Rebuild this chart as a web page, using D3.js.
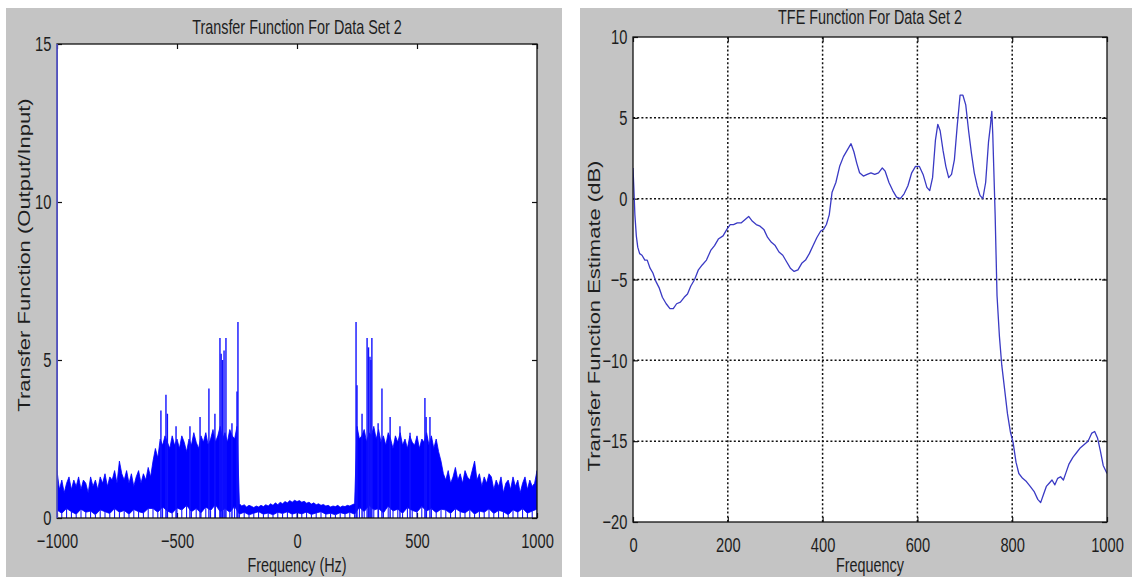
<!DOCTYPE html>
<html>
<head>
<meta charset="utf-8">
<script src="https://cdn.jsdelivr.net/npm/d3@7"></script>
<style>
  body { margin: 0; background: #ffffff; }
  svg text { font-family: "Liberation Sans", Arial, Helvetica, sans-serif; fill: #1e1e1e; }
</style>
</head>
<body>
<svg id="chart" width="1132" height="577"></svg>
<script>
// ---------------- Left panel: transfer function magnitude ----------------
const specTitle = "Transfer Function For Data Set 2";
const specXLabel = "Frequency (Hz)";
const specYLabel = "Transfer Function (Output/Input)";
const specXTicks = [-1000, -500, 0, 500, 1000];
const specYTicks = [0, 5, 10, 15];

// upper edge of the dense spectrum, sampled every 10 Hz from -1000 to 1000
const specUpperStep = 10;
const specUpper = [
  // -1000 .. -610
  1.5,0.9,1.2,0.8,1.1,1.3,0.9,1.2,1.0,1.3,
  0.9,1.2,1.1,0.8,1.3,1.0,1.2,0.9,1.3,1.1,
  1.4,1.0,1.3,1.2,1.5,1.1,1.8,1.4,1.2,1.5,
  1.1,1.4,1.0,1.3,1.5,1.1,1.4,1.2,1.6,1.3,
  // -600 .. -250
  1.8,2.2,1.9,2.5,2.3,2.6,2.4,2.2,2.6,2.3,
  2.5,2.2,2.6,2.4,2.1,2.5,2.3,2.7,2.4,2.2,
  2.6,2.4,2.7,2.3,2.5,2.8,2.4,2.6,2.9,2.5,
  2.7,2.4,2.8,2.6,2.5,2.9,
  // -240 .. 240
  0.45,0.38,0.42,0.35,0.40,0.37,0.33,0.38,0.35,0.40,
  0.36,0.42,0.38,0.45,0.40,0.48,0.42,0.50,0.45,0.52,
  0.48,0.55,0.50,0.56,0.52,
  0.55,0.50,0.53,0.47,0.50,0.44,0.48,0.42,0.45,0.40,
  0.43,0.38,0.40,0.35,0.38,0.36,0.40,0.34,0.38,0.36,0.40,0.38,0.42,0.45,
  // 250 .. 600
  2.9,2.5,2.6,2.8,2.4,2.7,2.6,2.9,2.5,2.8,
  2.4,2.6,2.3,2.7,2.5,2.2,2.6,2.4,2.7,2.3,
  2.5,2.2,2.6,2.4,2.3,2.6,2.2,2.5,2.4,2.7,
  2.3,2.6,2.2,2.5,2.1,1.8,
  // 610 .. 1000
  1.4,1.2,1.5,1.1,1.3,1.6,1.2,1.4,1.1,1.5,
  1.3,1.2,1.5,1.8,1.2,1.4,1.0,1.3,1.1,1.4,
  1.3,0.9,1.2,1.0,1.3,0.8,1.1,1.2,0.9,1.3,
  1.0,1.2,0.8,1.1,1.3,0.9,1.2,1.0,1.1,1.5
];

// lower edge of the dense spectrum, sampled every 20 Hz from -1000 to 1000
const specLowerStep = 20;
const specLower = [
  // -1000 .. -620
  0.25,0.15,0.30,0.20,0.12,0.28,0.18,0.22,0.10,0.26,0.20,0.14,0.30,0.18,0.24,0.12,0.27,0.20,0.16,0.30,
  // -600 .. -260
  0.30,0.18,0.35,0.22,0.15,0.32,0.25,0.40,0.20,0.30,0.16,0.35,0.24,0.42,0.20,0.30,0.18,0.36,
  // -240 .. 240
  0.12,0.18,0.10,0.15,0.20,0.12,0.16,0.10,0.18,0.14,0.20,0.12,0.17,0.13,0.19,0.11,0.16,0.20,0.12,0.15,0.10,0.17,0.13,0.18,0.12,
  // 260 .. 600
  0.34,0.20,0.40,0.25,0.30,0.16,0.38,0.22,0.28,0.15,0.33,0.24,0.19,0.36,0.22,0.30,0.17,0.28,
  // 620 .. 1000
  0.25,0.14,0.30,0.20,0.16,0.27,0.12,0.22,0.18,0.29,0.14,0.24,0.20,0.10,0.26,0.18,0.30,0.15,0.22,0.28
];

// isolated narrow peaks
const spikeFreq = [-1000,
  -567,-546,-540,-504,-446,-404,-367,-342,-321,-316,-310,-304,-296,-271,-250,-246,
   246, 250, 271, 292, 298, 304, 308, 312, 338, 354, 388, 429, 471, 533, 538, 554];
const spikeMag = [15,
  3.4,3.9,3.3,2.9,2.9,3.2,4.1,3.3,5.7,5.2,5.0,5.3,5.7,3.0,4.0,6.2,
  6.2,4.2,3.3,5.7,5.4,5.1,5.0,5.7,3.0,4.1,3.2,2.9,2.7,3.8,3.2,3.2];

// ---------------- Right panel: TFE estimate ----------------
const tfeTitle = "TFE Function For Data Set 2";
const tfeXLabel = "Frequency";
const tfeYLabel = "Transfer Function Estimate (dB)";
const tfeXTicks = [0, 200, 400, 600, 800, 1000];
const tfeYTicks = [-20, -15, -10, -5, 0, 5, 10];

const tfeFreq = [
  0,2,4,7,10,14,19,25,30,36,42,48,55,62,70,78,85,92,100,108,
  115,122,130,138,146,155,164,172,180,190,198,205,212,220,228,236,244,252,260,268,
  276,284,292,300,308,316,324,332,340,348,356,364,372,380,388,396,402,408,414,420,
  428,436,444,452,460,466,472,478,486,494,502,510,518,526,532,540,548,556,564,572,
  580,588,596,604,612,620,626,632,638,643,648,654,660,666,672,678,684,690,696,702,
  708,714,720,726,732,738,744,750,754,757,759,761,764,768,773,778,784,790,796,802,
  808,814,822,830,838,846,854,860,866,872,878,884,890,896,902,908,914,920,928,936,
  944,952,960,968,974,980,986,992,1000
];
const tfeDb = [
  1.9,0.5,-1.0,-2.3,-3.0,-3.4,-3.5,-3.8,-3.8,-4.3,-4.6,-5.1,-5.5,-6.1,-6.5,-6.8,-6.8,-6.5,-6.4,-6.1,
  -5.9,-5.4,-5.0,-4.4,-4.1,-3.8,-3.2,-2.9,-2.5,-2.3,-1.9,-1.6,-1.6,-1.5,-1.5,-1.3,-1.1,-1.4,-1.6,-1.7,
  -1.9,-2.4,-2.7,-2.9,-3.3,-3.5,-3.9,-4.3,-4.5,-4.4,-4.0,-3.8,-3.4,-2.9,-2.4,-2.0,-1.9,-1.6,-1.0,0.4,
  1.0,2.0,2.6,3.0,3.4,2.9,2.2,1.6,1.4,1.5,1.6,1.5,1.6,1.9,1.7,1.0,0.5,0.1,0.0,0.3,
  0.8,1.6,2.0,2.0,1.5,0.7,0.5,1.3,3.6,4.6,4.2,3.0,2.0,1.3,1.5,2.4,4.5,6.4,6.4,5.8,
  4.2,2.8,1.6,0.8,0.2,0.0,1.0,3.5,4.5,5.4,4.0,2.0,-1.0,-6.0,-8.5,-10.3,-11.8,-13.3,-14.4,-15.1,
  -16.3,-17.0,-17.3,-17.5,-17.8,-18.1,-18.6,-18.8,-18.3,-17.8,-17.6,-17.4,-17.7,-17.3,-17.2,-17.4,-16.9,-16.4,-16.0,-15.7,
  -15.4,-15.2,-15.0,-14.5,-14.4,-14.8,-15.6,-16.5,-17.0
];

// ---------------- drawing ----------------
const svg = d3.select("#chart");
const PANEL = "#c4c4c4";

// figure backgrounds
svg.append("rect").attr("x", 6).attr("y", 8).attr("width", 556).attr("height", 569).attr("fill", PANEL);
svg.append("rect").attr("x", 580).attr("y", 8).attr("width", 552).attr("height", 569).attr("fill", PANEL);

// condensed horizontal text
function hText(x, y, str, size, sx, anchor) {
  return svg.append("text")
    .attr("transform", `translate(${x},${y}) scale(${sx},1)`)
    .attr("text-anchor", anchor || "middle")
    .style("font-size", size + "px")
    .text(str);
}
// rotated axis title, glyphs condensed across the baseline
function vText(x, y, str, size, sy) {
  return svg.append("text")
    .attr("transform", `translate(${x},${y}) rotate(-90) scale(1,${sy})`)
    .attr("text-anchor", "middle")
    .style("font-size", size + "px")
    .text(str);
}

function styleAxis(g, sx) {
  g.select(".domain").remove();
  g.selectAll(".tick line").attr("stroke", "#111").attr("stroke-width", 1.2);
  g.selectAll(".tick text")
    .style("font-size", "21px")
    .attr("fill", "#1e1e1e")
    .attr("transform", `scale(${sx},1)`);
}

function frame(box, xS, yS, xT, yT) {
  const g = svg.append("g");
  const tickX = 0.7;
  g.append("g").attr("transform", `translate(0,${box.bottom})`)
    .call(d3.axisBottom(xS).tickValues(xT).tickFormat(d3.format("d")).tickSizeInner(-5).tickSizeOuter(0).tickPadding(15))
    .call(a => styleAxis(a, tickX));
  g.append("g").attr("transform", `translate(${box.left},0)`)
    .call(d3.axisLeft(yS).tickValues(yT).tickFormat(d3.format("d")).tickSizeInner(-5).tickSizeOuter(0).tickPadding(8))
    .call(a => styleAxis(a, tickX));
  g.append("g").attr("transform", `translate(0,${box.top})`)
    .call(d3.axisTop(xS).tickValues(xT).tickFormat("").tickSizeInner(-5).tickSizeOuter(0))
    .call(a => styleAxis(a, tickX));
  g.append("g").attr("transform", `translate(${box.right},0)`)
    .call(d3.axisRight(yS).tickValues(yT).tickFormat("").tickSizeInner(-5).tickSizeOuter(0))
    .call(a => styleAxis(a, tickX));
  return g;
}

// ---------- left plot ----------
const L = { left: 57, right: 537, top: 44, bottom: 518 };
const xL = d3.scaleLinear().domain([-1000, 1000]).range([L.left, L.right]);
const yL = d3.scaleLinear().domain([0, 15]).range([L.bottom, L.top]);

svg.append("rect").attr("x", L.left).attr("y", L.top)
  .attr("width", L.right - L.left).attr("height", L.bottom - L.top).attr("fill", "#fff");
svg.append("clipPath").attr("id", "clipL").append("rect")
  .attr("x", L.left).attr("y", L.top).attr("width", L.right - L.left).attr("height", L.bottom - L.top);

frame(L, xL, yL, specXTicks, specYTicks);

const upperPts = specUpper.map((v, i) => [-1000 + i * specUpperStep, v]);
const lowerPts = specLower.map((v, i) => [-1000 + i * specLowerStep, v]);
const bandPts = upperPts.concat(lowerPts.slice().reverse());

const gL = svg.append("g").attr("clip-path", "url(#clipL)");
const lineL = d3.line().x(d => xL(d[0])).y(d => yL(d[1]));
gL.append("path").attr("d", lineL(bandPts) + "Z")
  .attr("fill", "#0000ff").attr("stroke", "#0000ff").attr("stroke-width", 0.8);
gL.selectAll("line.floor").data(lowerPts).join("line")
  .attr("class", "floor")
  .attr("x1", d => xL(d[0])).attr("x2", d => xL(d[0]))
  .attr("y1", yL(0)).attr("y2", d => yL(d[1]))
  .attr("stroke", "#0000ff").attr("stroke-width", 1);
gL.selectAll("line.spike").data(spikeFreq.map((f, i) => [f, spikeMag[i]])).join("line")
  .attr("class", "spike")
  .attr("x1", d => xL(d[0])).attr("x2", d => xL(d[0]))
  .attr("y1", yL(0)).attr("y2", d => yL(d[1]))
  .attr("stroke", "#1010ff").attr("stroke-width", 1.4);

svg.append("rect").attr("x", L.left).attr("y", L.top)
  .attr("width", L.right - L.left).attr("height", L.bottom - L.top)
  .attr("fill", "none").attr("stroke", "#111").attr("stroke-width", 1.3);
// leftmost sample sits on the y axis
svg.append("line").attr("x1", xL(spikeFreq[0])).attr("x2", xL(spikeFreq[0]))
  .attr("y1", yL(0)).attr("y2", yL(Math.min(spikeMag[0], 15)))
  .attr("stroke", "#6a6af5").attr("stroke-width", 1.3);

hText((L.left + L.right) / 2, 34, specTitle, 20, 0.72);
hText((L.left + L.right) / 2, 572, specXLabel, 20, 0.72);
vText(30, 255, specYLabel, 22, 0.75);

// ---------- right plot ----------
const R = { left: 633, right: 1107, top: 37, bottom: 522 };
const xR = d3.scaleLinear().domain([0, 1000]).range([R.left, R.right]);
const yR = d3.scaleLinear().domain([-20, 10]).range([R.bottom, R.top]);

svg.append("rect").attr("x", R.left).attr("y", R.top)
  .attr("width", R.right - R.left).attr("height", R.bottom - R.top).attr("fill", "#fff");
svg.append("clipPath").attr("id", "clipR").append("rect")
  .attr("x", R.left).attr("y", R.top).attr("width", R.right - R.left).attr("height", R.bottom - R.top);

// dotted grid
const gGrid = svg.append("g");
gGrid.selectAll("line.vg").data(tfeXTicks.slice(1, -1)).join("line")
  .attr("class", "vg")
  .attr("x1", d => xR(d)).attr("x2", d => xR(d))
  .attr("y1", R.top).attr("y2", R.bottom)
  .attr("stroke", "#111").attr("stroke-width", 1.5).attr("stroke-dasharray", "2,2.2");
gGrid.selectAll("line.hg").data(tfeYTicks.slice(1, -1)).join("line")
  .attr("class", "hg")
  .attr("x1", R.left).attr("x2", R.right)
  .attr("y1", d => yR(d)).attr("y2", d => yR(d))
  .attr("stroke", "#111").attr("stroke-width", 1.5).attr("stroke-dasharray", "2,2.2");

frame(R, xR, yR, tfeXTicks, tfeYTicks);

svg.append("g").attr("clip-path", "url(#clipR)")
  .append("path")
  .datum(tfeFreq.map((f, i) => [f, tfeDb[i]]))
  .attr("d", d3.line().x(d => xR(d[0])).y(d => yR(d[1])))
  .attr("fill", "none").attr("stroke", "#3a3ac4").attr("stroke-width", 1.3)
  .attr("stroke-linejoin", "round");

svg.append("rect").attr("x", R.left).attr("y", R.top)
  .attr("width", R.right - R.left).attr("height", R.bottom - R.top)
  .attr("fill", "none").attr("stroke", "#111").attr("stroke-width", 1.3);

hText((R.left + R.right) / 2, 24, tfeTitle, 20, 0.72);
hText((R.left + R.right) / 2, 572, tfeXLabel, 20, 0.72);
vText(600, 316, tfeYLabel, 22, 0.75);
</script>
</body>
</html>
